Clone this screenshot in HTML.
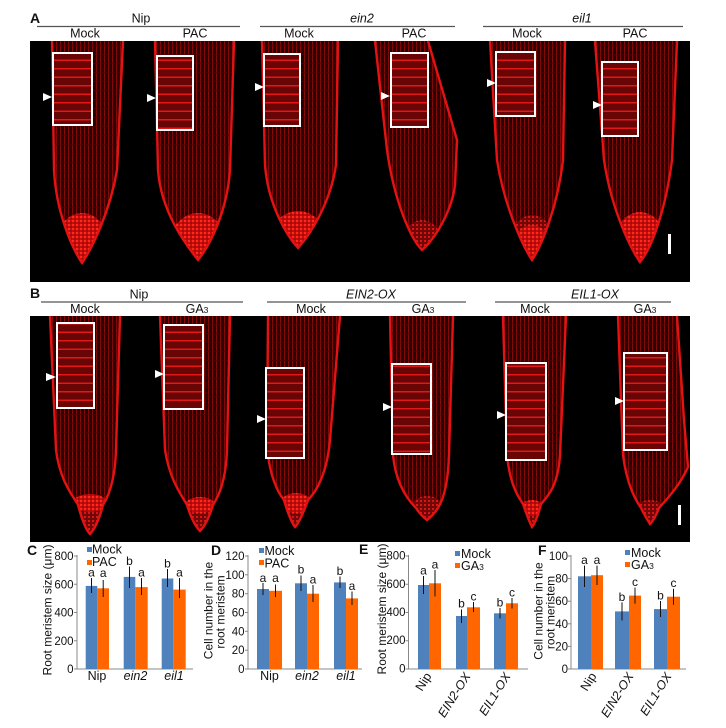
<!DOCTYPE html>
<html><head><meta charset="utf-8"><style>
html,body{margin:0;padding:0;background:#fff;}
svg{display:block;}
text{font-family:"Liberation Sans",Arial,sans-serif;fill:#111;}
</style></head><body>
<svg width="726" height="728" viewBox="0 0 726 728" xmlns="http://www.w3.org/2000/svg">
<defs>
<pattern id="body" width="4" height="9" patternUnits="userSpaceOnUse">
<rect width="4" height="9" fill="#2a0000"/>
<rect width="0.9" height="9" fill="#8e0a0a"/>
<rect width="4" height="0.7" fill="#500404"/>
</pattern>
<pattern id="cap" width="4" height="4" patternUnits="userSpaceOnUse">
<rect width="4" height="4" fill="#c40e0e"/>
<rect width="2" height="2" fill="#ff2a1a"/>
<rect x="2.5" y="2.5" width="1" height="1" fill="#500"/>
</pattern>
<pattern id="capm" width="4" height="4" patternUnits="userSpaceOnUse">
<rect width="4" height="4" fill="#700808"/>
<rect width="2" height="2" fill="#d81616"/>
</pattern>
<pattern id="ins" width="10" height="8.5" patternUnits="userSpaceOnUse">
<rect width="10" height="8.5" fill="#6a0505"/>
<rect width="10" height="1.5" fill="#e01818"/>
</pattern>
<clipPath id="cA1"><path d="M52,41 L54,170 C56,212 72,248 82,263 C92,248 110,212 117,170 L123,41 Z"/></clipPath>
<clipPath id="cA2"><path d="M155,41 L158,170 C161,212 186,245 198,260 C210,245 227,212 230,170 L234,41 Z"/></clipPath>
<clipPath id="cA3"><path d="M262,41 L265,165 C268,205 287,236 298,248 C309,236 330,205 336,165 L338,41 Z"/></clipPath>
<clipPath id="cA4"><path d="M375,41 L387,150 C394,200 410,238 422,250 C436,238 452,210 455,185 L457,140 L428,41 Z"/></clipPath>
<clipPath id="cA5"><path d="M490,41 L497,160 C504,205 522,245 532,260 C542,245 558,205 563,160 L565,41 Z"/></clipPath>
<clipPath id="cA6"><path d="M595,41 L604,160 C611,208 630,248 640,262 C652,248 666,208 672,160 L677,41 Z"/></clipPath>
<clipPath id="cB1"><path d="M50,316 L56,450 C60,482 74,497 78,505 C82,520 86,530 90,534 C94,530 99,520 103,505 C108,497 115,482 116,450 L120,316 Z"/></clipPath>
<clipPath id="cB2"><path d="M160,316 L165,450 C170,482 183,497 187,505 C191,518 196,527 200,531 C204,527 209,518 213,505 C218,497 226,482 227,450 L230,316 Z"/></clipPath>
<clipPath id="cB3"><path d="M268,316 L267,440 C268,476 279,494 284,500 C288,514 292,523 295,527 C299,523 303,514 308,500 C316,492 327,474 330,440 L340,316 Z"/></clipPath>
<clipPath id="cB4"><path d="M390,316 L393,455 C396,486 410,502 416,508 C420,514 424,518 427,520 C430,518 434,514 438,508 C443,500 448,486 449,455 L453,316 Z"/></clipPath>
<clipPath id="cB5"><path d="M503,316 L507,455 C510,486 519,498 523,504 C527,516 530,523 532,527 C535,523 538,516 541,504 C548,496 558,486 560,455 L566,316 Z"/></clipPath>
<clipPath id="cB6"><path d="M618,316 L623,455 C627,487 637,502 641,508 C645,516 648,521 650,524 C653,521 656,516 659,508 C668,498 680,485 688,467 L684,420 L677,316 Z"/></clipPath>
</defs>

<rect width="726" height="728" fill="#fff"/>

<!-- Header A -->
<text x="30" y="23" font-size="14" font-weight="bold">A</text>
<text x="141" y="22.5" font-size="12.5" text-anchor="middle">Nip</text>
<text x="362" y="22.5" font-size="12.5" text-anchor="middle" font-style="italic">ein2</text>
<text x="582" y="22.5" font-size="12.5" text-anchor="middle" font-style="italic">eil1</text>
<g stroke="#555" stroke-width="1.2">
<line x1="37" y1="26.5" x2="240" y2="26.5"/>
<line x1="260" y1="26.5" x2="455" y2="26.5"/>
<line x1="483" y1="26.5" x2="683" y2="26.5"/>
</g>
<g font-size="12.5" text-anchor="middle">
<text x="85" y="37.5">Mock</text>
<text x="195" y="37.5">PAC</text>
<text x="299" y="37.5">Mock</text>
<text x="414" y="37.5">PAC</text>
<text x="527" y="37.5">Mock</text>
<text x="635" y="37.5">PAC</text>
</g>

<!-- Panel A image -->
<rect x="30" y="41" width="660" height="241" fill="#000"/>
<g clip-path="url(#cA1)"><rect x="40" y="41" width="100" height="230" fill="url(#body)"/><ellipse cx="82" cy="255" rx="30" ry="42" fill="url(#cap)"/></g>
<g clip-path="url(#cA2)"><rect x="150" y="41" width="100" height="230" fill="url(#body)"/><ellipse cx="198" cy="255" rx="32" ry="42" fill="url(#cap)"/></g>
<g clip-path="url(#cA3)"><rect x="255" y="41" width="100" height="230" fill="url(#body)"/><ellipse cx="298" cy="245" rx="30" ry="34" fill="url(#cap)"/></g>
<g clip-path="url(#cA4)"><rect x="370" y="41" width="100" height="230" fill="url(#body)"/><ellipse cx="422" cy="250" rx="22" ry="30" fill="url(#capm)"/></g>
<g clip-path="url(#cA5)"><rect x="485" y="41" width="100" height="230" fill="url(#body)"/><ellipse cx="532" cy="255" rx="26" ry="40" fill="url(#capm)"/><ellipse cx="532" cy="245" rx="18" ry="20" fill="url(#cap)"/></g>
<g clip-path="url(#cA6)"><rect x="590" y="41" width="100" height="230" fill="url(#body)"/><ellipse cx="640" cy="257" rx="30" ry="45" fill="url(#cap)"/></g>
<g fill="none" stroke="#e41212" stroke-width="2.4">
<path d="M52,41 L54,170 C56,212 72,248 82,263 C92,248 110,212 117,170 L123,41"/>
<path d="M155,41 L158,170 C161,212 186,245 198,260 C210,245 227,212 230,170 L234,41"/>
<path d="M262,41 L265,165 C268,205 287,236 298,248 C309,236 330,205 336,165 L338,41"/>
<path d="M375,41 L387,150 C394,200 410,238 422,250 C436,238 452,210 455,185 L457,140 L428,41"/>
<path d="M490,41 L497,160 C504,205 522,245 532,260 C542,245 558,205 563,160 L565,41"/>
<path d="M595,41 L604,160 C611,208 630,248 640,262 C652,248 666,208 672,160 L677,41"/>
</g>
<g stroke="#fff" stroke-width="2" fill="url(#ins)">
<rect x="53" y="53" width="39" height="72"/>
<rect x="157" y="56" width="36" height="74"/>
<rect x="264" y="54" width="36" height="72"/>
<rect x="391" y="53" width="37" height="74"/>
<rect x="496" y="52" width="39" height="64"/>
<rect x="602" y="62" width="36" height="74"/>
</g>
<g fill="#fff">
<polygon points="43,93 52,97 43,101"/>
<polygon points="147,94 156,98 147,102"/>
<polygon points="255,83 264,87 255,91"/>
<polygon points="381,92 390,96 381,100"/>
<polygon points="487,79 496,83 487,87"/>
<polygon points="593,101 602,105 593,109"/>
<rect x="668" y="234" width="3" height="20"/>
</g>

<!-- Header B -->
<text x="30" y="298" font-size="14" font-weight="bold">B</text>
<text x="139" y="298.5" font-size="12.5" text-anchor="middle">Nip</text>
<text x="371" y="298.5" font-size="12.5" text-anchor="middle" font-style="italic">EIN2-OX</text>
<text x="595" y="298.5" font-size="12.5" text-anchor="middle" font-style="italic">EIL1-OX</text>
<g stroke="#555" stroke-width="1.2">
<line x1="41" y1="302" x2="243" y2="302"/>
<line x1="267" y1="302" x2="466" y2="302"/>
<line x1="495" y1="302" x2="671" y2="302"/>
</g>
<g font-size="12.5" text-anchor="middle">
<text x="85" y="313">Mock</text>
<text x="197" y="313">GA<tspan font-size="8.5">3</tspan></text>
<text x="311" y="313">Mock</text>
<text x="423" y="313">GA<tspan font-size="8.5">3</tspan></text>
<text x="535" y="313">Mock</text>
<text x="645" y="313">GA<tspan font-size="8.5">3</tspan></text>
</g>

<!-- Panel B image -->
<rect x="30" y="316" width="660" height="226" fill="#000"/>
<g clip-path="url(#cB1)"><rect x="45" y="316" width="80" height="226" fill="url(#body)"/><ellipse cx="90" cy="520" rx="16" ry="16" fill="url(#capm)"/><ellipse cx="90" cy="503" rx="17" ry="9" fill="url(#cap)"/></g>
<g clip-path="url(#cB2)"><rect x="155" y="316" width="80" height="226" fill="url(#body)"/><ellipse cx="200" cy="518" rx="15" ry="15" fill="url(#capm)"/><ellipse cx="200" cy="505" rx="15" ry="8" fill="url(#cap)"/></g>
<g clip-path="url(#cB3)"><rect x="262" y="316" width="82" height="226" fill="url(#body)"/><ellipse cx="296" cy="515" rx="16" ry="14" fill="url(#capm)"/><ellipse cx="296" cy="503" rx="15" ry="10" fill="url(#cap)"/></g>
<g clip-path="url(#cB4)"><rect x="385" y="316" width="72" height="226" fill="url(#body)"/><ellipse cx="427" cy="508" rx="16" ry="12" fill="url(#capm)"/></g>
<g clip-path="url(#cB5)"><rect x="498" y="316" width="72" height="226" fill="url(#body)"/><ellipse cx="532" cy="515" rx="15" ry="13" fill="url(#capm)"/><ellipse cx="532" cy="508" rx="12" ry="8" fill="url(#cap)"/></g>
<g clip-path="url(#cB6)"><rect x="612" y="316" width="78" height="226" fill="url(#body)"/><ellipse cx="650" cy="512" rx="16" ry="12" fill="url(#capm)"/></g>
<g fill="none" stroke="#e41212" stroke-width="2.4">
<path d="M50,316 L56,450 C60,482 74,497 78,505 C82,520 86,530 90,534 C94,530 99,520 103,505 C108,497 115,482 116,450 L120,316"/>
<path d="M160,316 L165,450 C170,482 183,497 187,505 C191,518 196,527 200,531 C204,527 209,518 213,505 C218,497 226,482 227,450 L230,316"/>
<path d="M268,316 L267,440 C268,476 279,494 284,500 C288,514 292,523 295,527 C299,523 303,514 308,500 C316,492 327,474 330,440 L340,316"/>
<path d="M390,316 L393,455 C396,486 410,502 416,508 C420,514 424,518 427,520 C430,518 434,514 438,508 C443,500 448,486 449,455 L453,316"/>
<path d="M503,316 L507,455 C510,486 519,498 523,504 C527,516 530,523 532,527 C535,523 538,516 541,504 C548,496 558,486 560,455 L566,316"/>
<path d="M618,316 L623,455 C627,487 637,502 641,508 C645,516 648,521 650,524 C653,521 656,516 659,508 C668,498 680,485 688,467 L684,420 L677,316"/>
</g>
<g stroke="#fff" stroke-width="2" fill="url(#ins)">
<rect x="57" y="323" width="37" height="85"/>
<rect x="164" y="325" width="39" height="84"/>
<rect x="266" y="368" width="38" height="90"/>
<rect x="392" y="364" width="39" height="90"/>
<rect x="506" y="363" width="40" height="97"/>
<rect x="624" y="353" width="43" height="97"/>
</g>
<g fill="#fff">
<polygon points="46,373 56,377 46,381"/>
<polygon points="155,370 164,374 155,378"/>
<polygon points="257,415 266,419 257,423"/>
<polygon points="383,403 392,407 383,411"/>
<polygon points="497,411 506,415 497,419"/>
<polygon points="615,397 624,401 615,405"/>
<rect x="678" y="505" width="3" height="20"/>
</g>

<!-- Panel letters for charts -->
<g font-size="14" font-weight="bold">
<text x="27" y="555">C</text>
<text x="211" y="555">D</text>
<text x="359" y="554">E</text>
<text x="538" y="555">F</text>
</g>

<!-- Chart C -->
<g stroke="#888" stroke-width="1" fill="none">
<line x1="77" y1="555" x2="77" y2="669"/>
<line x1="77" y1="669" x2="193" y2="669"/>
<line x1="74" y1="556" x2="77" y2="556"/>
<line x1="74" y1="584.25" x2="77" y2="584.25"/>
<line x1="74" y1="612.5" x2="77" y2="612.5"/>
<line x1="74" y1="640.75" x2="77" y2="640.75"/>
<line x1="74" y1="669" x2="77" y2="669"/>
</g>
<g font-size="11.5" text-anchor="end">
<text x="73.5" y="560">800</text>
<text x="73.5" y="588.5">600</text>
<text x="73.5" y="616.5">400</text>
<text x="73.5" y="645">200</text>
<text x="73.5" y="673">0</text>
</g>
<text transform="translate(51.5,610) rotate(-90)" font-size="12" text-anchor="middle">Root meristem size (μm)</text>
<g fill="#4F81BD">
<rect x="85.7" y="585.9" width="11.6" height="83.1"/>
<rect x="123.7" y="576.9" width="11.6" height="92.1"/>
<rect x="161.7" y="578.5" width="11.6" height="90.5"/>
</g>
<g fill="#FF6600">
<rect x="97.3" y="588.3" width="11.7" height="80.7"/>
<rect x="135.3" y="587.1" width="12.4" height="81.9"/>
<rect x="173.3" y="589.6" width="12.4" height="79.4"/>
</g>
<g stroke="#111" stroke-width="1">
<line x1="91.5" y1="578" x2="91.5" y2="593"/>
<line x1="103.2" y1="580" x2="103.2" y2="597"/>
<line x1="129.5" y1="566.5" x2="129.5" y2="588"/>
<line x1="141.5" y1="578" x2="141.5" y2="595"/>
<line x1="167.5" y1="569" x2="167.5" y2="587"/>
<line x1="179.5" y1="578" x2="179.5" y2="598"/>
</g>
<g font-size="12" text-anchor="middle">
<text x="91.5" y="576.5">a</text>
<text x="103.2" y="577">a</text>
<text x="129.5" y="565">b</text>
<text x="141.5" y="576.5">a</text>
<text x="167.5" y="567.5">b</text>
<text x="179.5" y="576.5">a</text>
</g>
<rect x="87" y="547" width="5" height="5" fill="#4F81BD"/>
<text x="92" y="553.5" font-size="12.5">Mock</text>
<rect x="87" y="560" width="5" height="5" fill="#FF6600"/>
<text x="92" y="566" font-size="12.5">PAC</text>
<g font-size="12.5" text-anchor="middle">
<text x="97" y="680">Nip</text>
<text x="135.5" y="680" font-style="italic">ein2</text>
<text x="174" y="680" font-style="italic">eil1</text>
</g>

<!-- Chart D -->
<g stroke="#888" stroke-width="1" fill="none">
<line x1="248" y1="555" x2="248" y2="669"/>
<line x1="248" y1="669" x2="362" y2="669"/>
<line x1="245" y1="556" x2="248" y2="556"/>
<line x1="245" y1="574.8" x2="248" y2="574.8"/>
<line x1="245" y1="593.7" x2="248" y2="593.7"/>
<line x1="245" y1="612.5" x2="248" y2="612.5"/>
<line x1="245" y1="631.3" x2="248" y2="631.3"/>
<line x1="245" y1="650.2" x2="248" y2="650.2"/>
<line x1="245" y1="669" x2="248" y2="669"/>
</g>
<g font-size="11.5" text-anchor="end">
<text x="244.5" y="560">120</text>
<text x="244.5" y="579">100</text>
<text x="244.5" y="597.7">80</text>
<text x="244.5" y="616.5">60</text>
<text x="244.5" y="635.3">40</text>
<text x="244.5" y="654.2">20</text>
<text x="244.5" y="673">0</text>
</g>
<text transform="translate(212.5,610.5) rotate(-90)" font-size="12" text-anchor="middle">Cell number in the</text>
<text transform="translate(224.5,612) rotate(-90)" font-size="12" text-anchor="middle">root meristem</text>
<g fill="#4F81BD">
<rect x="257" y="589" width="12" height="80"/>
<rect x="295" y="583.3" width="12" height="85.7"/>
<rect x="334" y="582.4" width="12" height="86.6"/>
</g>
<g fill="#FF6600">
<rect x="269" y="590.8" width="13" height="78.2"/>
<rect x="307" y="593.7" width="12" height="75.3"/>
<rect x="346" y="598.4" width="12" height="70.6"/>
</g>
<g stroke="#111" stroke-width="1">
<line x1="263" y1="583" x2="263" y2="595"/>
<line x1="275.5" y1="584.5" x2="275.5" y2="597"/>
<line x1="301" y1="575.5" x2="301" y2="591"/>
<line x1="313" y1="585" x2="313" y2="602"/>
<line x1="340" y1="576.5" x2="340" y2="588"/>
<line x1="352" y1="591.5" x2="352" y2="605"/>
</g>
<g font-size="12" text-anchor="middle">
<text x="263" y="582">a</text>
<text x="275.5" y="582">a</text>
<text x="301" y="573.5">b</text>
<text x="313" y="583.5">a</text>
<text x="340" y="575">b</text>
<text x="352" y="590">a</text>
</g>
<rect x="259" y="548" width="5" height="5" fill="#4F81BD"/>
<text x="264.5" y="555" font-size="12.5">Mock</text>
<rect x="259" y="560" width="5" height="5" fill="#FF6600"/>
<text x="264.5" y="567.5" font-size="12.5">PAC</text>
<g font-size="12.5" text-anchor="middle">
<text x="269.5" y="680">Nip</text>
<text x="307" y="680" font-style="italic">ein2</text>
<text x="346" y="680" font-style="italic">eil1</text>
</g>

<!-- Chart E -->
<g stroke="#888" stroke-width="1" fill="none">
<line x1="408.5" y1="555" x2="408.5" y2="669"/>
<line x1="408.5" y1="669" x2="528" y2="669"/>
<line x1="405.5" y1="556" x2="408.5" y2="556"/>
<line x1="405.5" y1="584.25" x2="408.5" y2="584.25"/>
<line x1="405.5" y1="612.5" x2="408.5" y2="612.5"/>
<line x1="405.5" y1="640.75" x2="408.5" y2="640.75"/>
<line x1="405.5" y1="669" x2="408.5" y2="669"/>
</g>
<g font-size="11.5" text-anchor="end">
<text x="405.5" y="559.5">800</text>
<text x="405.5" y="587.8">600</text>
<text x="405.5" y="616">400</text>
<text x="405.5" y="644">200</text>
<text x="405.5" y="672.5">0</text>
</g>
<text transform="translate(386,609) rotate(-90)" font-size="12" text-anchor="middle">Root meristem size (μm)</text>
<g fill="#4F81BD">
<rect x="418" y="585" width="11" height="84"/>
<rect x="456" y="616" width="11" height="53"/>
<rect x="494" y="613.3" width="12" height="55.7"/>
</g>
<g fill="#FF6600">
<rect x="429" y="583.3" width="12" height="85.7"/>
<rect x="467" y="607.3" width="13" height="61.7"/>
<rect x="506" y="603.3" width="12" height="65.7"/>
</g>
<g stroke="#111" stroke-width="1">
<line x1="423.5" y1="576" x2="423.5" y2="594"/>
<line x1="435" y1="570" x2="435" y2="596.5"/>
<line x1="461.5" y1="609.5" x2="461.5" y2="623"/>
<line x1="473.5" y1="602" x2="473.5" y2="612"/>
<line x1="500" y1="608" x2="500" y2="618.5"/>
<line x1="512" y1="598" x2="512" y2="608.5"/>
</g>
<g font-size="12" text-anchor="middle">
<text x="423.5" y="574.5">a</text>
<text x="435" y="568.5">a</text>
<text x="461.5" y="607.5">b</text>
<text x="473.5" y="600.5">c</text>
<text x="500" y="606.5">b</text>
<text x="512" y="596.5">c</text>
</g>
<rect x="455" y="551" width="5" height="5" fill="#4F81BD"/>
<text x="461" y="558" font-size="12.5">Mock</text>
<rect x="455" y="563" width="5" height="5" fill="#FF6600"/>
<text x="461" y="570" font-size="12.5">GA<tspan font-size="8.5">3</tspan></text>
<g font-size="12.5" text-anchor="end">
<text transform="translate(432,676) rotate(-58)">Nip</text>
<text transform="translate(471,676) rotate(-58)" font-style="italic">EIN2-OX</text>
<text transform="translate(511,676) rotate(-58)" font-style="italic">EIL1-OX</text>
</g>

<!-- Chart F -->
<g stroke="#888" stroke-width="1" fill="none">
<line x1="571" y1="555" x2="571" y2="669"/>
<line x1="571" y1="669" x2="686" y2="669"/>
<line x1="568" y1="556" x2="571" y2="556"/>
<line x1="568" y1="578.6" x2="571" y2="578.6"/>
<line x1="568" y1="601.2" x2="571" y2="601.2"/>
<line x1="568" y1="623.8" x2="571" y2="623.8"/>
<line x1="568" y1="646.4" x2="571" y2="646.4"/>
<line x1="568" y1="669" x2="571" y2="669"/>
</g>
<g font-size="11.5" text-anchor="end">
<text x="568" y="560">100</text>
<text x="568" y="582.6">80</text>
<text x="568" y="605.2">60</text>
<text x="568" y="627.8">40</text>
<text x="568" y="650.4">20</text>
<text x="568" y="673">0</text>
</g>
<text transform="translate(542.5,611) rotate(-90)" font-size="12" text-anchor="middle">Cell number in the</text>
<text transform="translate(554.5,612.5) rotate(-90)" font-size="12" text-anchor="middle">root meristem</text>
<g fill="#4F81BD">
<rect x="578" y="576.3" width="13" height="92.7"/>
<rect x="615" y="611.4" width="14" height="57.6"/>
<rect x="654" y="609.1" width="13" height="59.9"/>
</g>
<g fill="#FF6600">
<rect x="591" y="575.2" width="12" height="93.8"/>
<rect x="629" y="595.6" width="12" height="73.4"/>
<rect x="667" y="596.7" width="13" height="72.3"/>
</g>
<g stroke="#111" stroke-width="1">
<line x1="584.5" y1="565.6" x2="584.5" y2="587"/>
<line x1="597" y1="565.6" x2="597" y2="585"/>
<line x1="622" y1="602.4" x2="622" y2="620.4"/>
<line x1="635" y1="587.6" x2="635" y2="603.6"/>
<line x1="660.5" y1="601" x2="660.5" y2="617"/>
<line x1="673.5" y1="588.7" x2="673.5" y2="604.7"/>
</g>
<g font-size="12" text-anchor="middle">
<text x="584.5" y="564">a</text>
<text x="597" y="564">a</text>
<text x="622" y="601">b</text>
<text x="635" y="586">c</text>
<text x="660.5" y="599.5">b</text>
<text x="673.5" y="587">c</text>
</g>
<rect x="625" y="550" width="5" height="5" fill="#4F81BD"/>
<text x="631" y="557" font-size="12.5">Mock</text>
<rect x="625" y="562" width="5" height="5" fill="#FF6600"/>
<text x="631" y="569" font-size="12.5">GA<tspan font-size="8.5">3</tspan></text>
<g font-size="12.5" text-anchor="end">
<text transform="translate(597,676) rotate(-58)">Nip</text>
<text transform="translate(634,676) rotate(-58)" font-style="italic">EIN2-OX</text>
<text transform="translate(672,676) rotate(-58)" font-style="italic">EIL1-OX</text>
</g>
</svg>
</body></html>
